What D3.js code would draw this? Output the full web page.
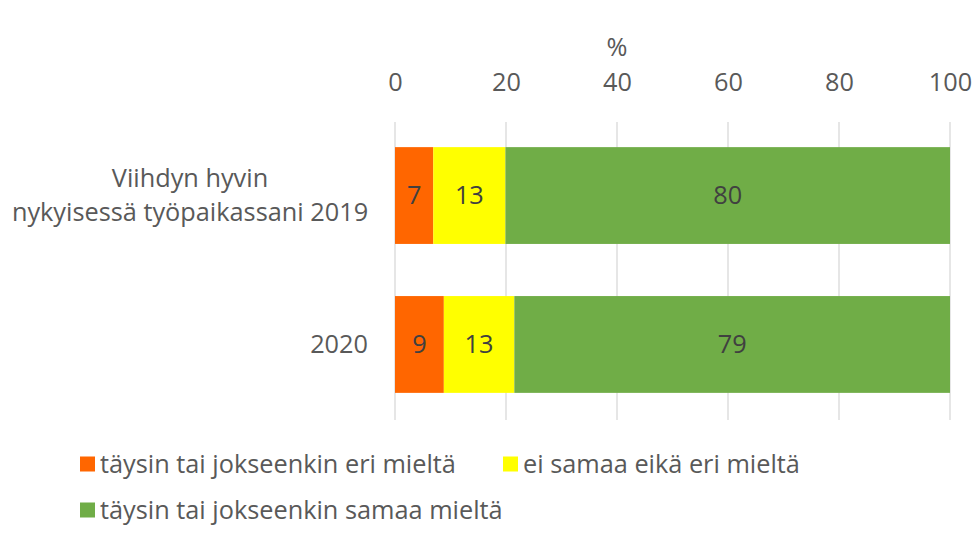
<!DOCTYPE html>
<html>
<head>
<meta charset="utf-8">
<script src="https://cdn.jsdelivr.net/npm/d3@7"></script>
<style>
  body { margin: 0; background: #fff; }
  text { font-family: "Open Sans", "Noto Sans", sans-serif; }
</style>
</head>
<body>
<script>
// rows of the chart
var categories = ['2019', '2020'];
var catLabels = [['Viihdyn hyvin', 'nykyisessä työpaikassani 2019'], ['2020']];

// series (percent)
var seriesNames = ['täysin tai jokseenkin eri mieltä', 'ei samaa eikä eri mieltä', 'täysin tai jokseenkin samaa mieltä'];
var eriMielta = [6.9, 8.8];
var eiSamaa = [13.0, 12.7];
var samaa = [80.1, 78.5];

var tickValues = [0, 20, 40, 60, 80, 100];
var colors = ['#ff6600', '#ffff00', '#70ad47'];

var W = 978, H = 537;
var fs = 25.3;

var svg = d3.select('body').append('svg')
    .attr('width', W)
    .attr('height', H);

var xScale = d3.scaleLinear()
    .domain([0, 100])
    .range([395, 950]);

var yScale = d3.scaleBand()
    .domain(categories)
    .range([95, 445])
    .paddingInner(0.35)
    .paddingOuter(0.35);

// build stacked table
var table = categories.map(function (c, i) {
  return { cat: c, a: eriMielta[i], b: eiSamaa[i], c: samaa[i] };
});
var stack = d3.stack().keys(['a', 'b', 'c']);
var layers = stack(table);

// gridlines
svg.append('g')
  .selectAll('line')
  .data(tickValues)
  .enter()
  .append('line')
  .attr('x1', function (d) { return xScale(d); })
  .attr('x2', function (d) { return xScale(d); })
  .attr('y1', 122)
  .attr('y2', 420)
  .attr('stroke', '#d9d9d9')
  .attr('stroke-width', 1.3);

// top axis, labels only
var xAxis = d3.axisTop(xScale)
    .tickValues(tickValues)
    .tickSize(0)
    .tickPadding(0);

var axisG = svg.append('g')
    .attr('transform', 'translate(0,91)')
    .call(xAxis);
axisG.select('.domain').remove();
axisG.attr('font-family', null).attr('font-size', null);
axisG.selectAll('text')
    .attr('fill', '#595959')
    .attr('font-size', fs)
    .attr('dy', 0);

svg.append('text')
  .attr('x', 617)
  .attr('y', 56)
  .attr('text-anchor', 'middle')
  .attr('font-size', fs)
  .attr('fill', '#595959')
  .text('%');

// bars
var layerG = svg.selectAll('g.layer')
  .data(layers)
  .enter()
  .append('g')
  .attr('class', 'layer')
  .attr('fill', function (d, i) { return colors[i]; });

layerG.selectAll('rect')
  .data(function (d) { return d; })
  .enter()
  .append('rect')
  .attr('x', function (d) { return xScale(d[0]); })
  .attr('width', function (d) { return xScale(d[1]) - xScale(d[0]); })
  .attr('y', function (d) { return yScale(d.data.cat); })
  .attr('height', yScale.bandwidth());

// value labels
layerG.selectAll('text')
  .data(function (d) { return d; })
  .enter()
  .append('text')
  .attr('x', function (d) { return (xScale(d[0]) + xScale(d[1])) / 2; })
  .attr('y', function (d) { return yScale(d.data.cat) + yScale.bandwidth() / 2; })
  .attr('dy', '0.35em')
  .attr('text-anchor', 'middle')
  .attr('font-size', fs)
  .attr('fill', '#404040')
  .text(function (d) { return Math.round(d[1] - d[0]); });

// category labels
var catG = svg.selectAll('text.cat')
  .data(categories)
  .enter()
  .append('text')
  .attr('class', 'cat')
  .attr('font-size', fs)
  .attr('fill', '#595959');

catG.each(function (c, i) {
  var lines = catLabels[i];
  var t = d3.select(this);
  var mid = yScale(c) + yScale.bandwidth() / 2;
  if (lines.length > 1) {
    t.attr('text-anchor', 'middle');
    lines.forEach(function (l, j) {
      t.append('tspan')
        .attr('x', 190)
        .attr('y', mid + (j - 0.5) * 34)
        .attr('dy', '0.35em')
        .text(l);
    });
  } else {
    t.attr('text-anchor', 'end')
      .attr('x', 368)
      .attr('y', mid)
      .attr('dy', '0.35em')
      .text(lines[0]);
  }
});

// legend
var legendPos = [[80, 464], [503, 464], [80, 510]];
var legend = svg.selectAll('g.legend')
  .data(seriesNames)
  .enter()
  .append('g')
  .attr('class', 'legend')
  .attr('transform', function (d, i) {
    return 'translate(' + legendPos[i][0] + ',' + legendPos[i][1] + ')';
  });

legend.append('rect')
  .attr('x', 0)
  .attr('y', -7.5)
  .attr('width', 15)
  .attr('height', 15)
  .attr('fill', function (d, i) { return colors[i]; });

legend.append('text')
  .attr('x', 20)
  .attr('y', 0)
  .attr('dy', '0.35em')
  .attr('font-size', fs)
  .attr('fill', '#595959')
  .text(function (d) { return d; });
</script>
</body>
</html>
